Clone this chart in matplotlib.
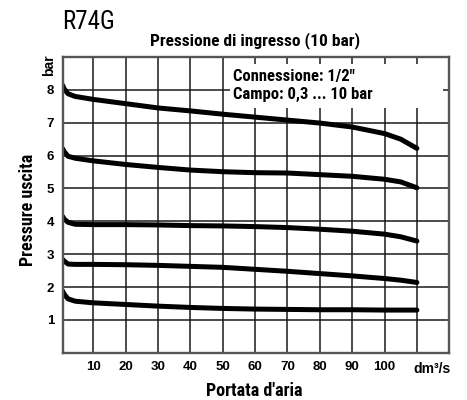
import matplotlib
matplotlib.use("Agg")
import matplotlib.pyplot as plt
from matplotlib.patches import Rectangle
from matplotlib import font_manager

# ---------------- data ----------------
flow = [0.5, 1, 2.2, 4.4, 10, 20, 30, 40, 50, 60, 70, 80, 90, 100, 105, 110]
p_out_8 = [8.14, 8.03, 7.88, 7.80, 7.71, 7.58, 7.45, 7.36, 7.26, 7.17, 7.08, 6.99, 6.87, 6.67, 6.50, 6.22]
p_out_6 = [6.21, 6.12, 5.98, 5.92, 5.84, 5.73, 5.64, 5.56, 5.51, 5.48, 5.47, 5.42, 5.37, 5.28, 5.20, 5.02]
p_out_4 = [4.15, 4.07, 3.97, 3.91, 3.90, 3.90, 3.89, 3.87, 3.86, 3.84, 3.81, 3.76, 3.70, 3.61, 3.53, 3.40]
p_out_3 = [2.84, 2.79, 2.70, 2.69, 2.69, 2.68, 2.66, 2.63, 2.60, 2.54, 2.48, 2.41, 2.34, 2.26, 2.21, 2.14]
p_out_2 = [1.88, 1.78, 1.64, 1.57, 1.52, 1.47, 1.42, 1.38, 1.35, 1.33, 1.32, 1.31, 1.31, 1.30, 1.30, 1.30]
series = [p_out_8, p_out_6, p_out_4, p_out_3, p_out_2]

x_ticks = [10, 20, 30, 40, 50, 60, 70, 80, 90, 100]
x_ticklabels = ["10", "20", "30", "40", "50", "60", "70", "80", "90", "100"]
y_ticks = [1, 2, 3, 4, 5, 6, 7, 8]
y_ticklabels = ["1", "2", "3", "4", "5", "6", "7", "8"]

title_top = "R74G"
title = "Pressione di ingresso (10 bar)"
info = "Connessione: 1/2\"\nCampo: 0,3 ... 10 bar"
xlabel = "Portata d'aria"
ylabel = "Pressure uscita"
x_unit = "dm\u00b3/s"
y_unit = "bar"

# ---------------- fonts ----------------
avail = {f.name for f in font_manager.fontManager.ttflist}
cond = [f for f in ["Roboto Condensed", "PT Sans Narrow", "Archivo Narrow"] if f in avail]
NARROW = cond + ["DejaVu Sans"]
ARIAL = ["Liberation Sans", "DejaVu Sans"]

# ---------------- figure ----------------
fig = plt.figure(figsize=(4.67, 4.0), dpi=100)
ax = fig.add_axes([0.134, 0.118, 0.828, 0.7395])
ax.set_xlim(0.5, 120)
ax.set_ylim(0, 9)

grid_c = "#1a1a1a"
for xv in range(10, 120, 10):
    ax.axvline(xv, color=grid_c, lw=1.1, zorder=1)
for yv in range(1, 9):
    ax.axhline(yv, color=grid_c, lw=1.1, zorder=1)

for s in series:
    ax.plot(flow, s, color="black", lw=3.6, solid_capstyle="round",
            solid_joinstyle="round", zorder=3)

# info box (white background)
ax.add_patch(Rectangle((0.433, 0.828), 0.551, 0.147, transform=ax.transAxes,
                       facecolor="white", edgecolor="none", zorder=2))
ax.text(0.440, 0.903, info, transform=ax.transAxes, ha="left", va="center",
        family=NARROW, fontweight="bold", fontsize=12, linespacing=1.25, zorder=4)

for sp in ax.spines.values():
    sp.set_color("#555555")
    sp.set_linewidth(1.7)
    sp.set_zorder(5)

ax.set_xticks(x_ticks)
ax.set_xticklabels(x_ticklabels, family=ARIAL, fontweight="bold", fontsize=9.5)
ax.set_yticks(y_ticks)
ax.set_yticklabels(y_ticklabels, family=ARIAL, fontweight="bold", fontsize=9.5)
ax.tick_params(length=0, pad=6)

ax.text(114.8, -0.5, x_unit, ha="center", va="center", family=ARIAL,
        fontweight="bold", fontsize=10)
ax.text(-0.035, 0.973, y_unit, transform=ax.transAxes, rotation=90,
        ha="center", va="center", family=ARIAL, fontweight="bold", fontsize=10)

fig.text(0.545, 0.022, xlabel, ha="center", va="center", family=NARROW,
         fontweight="bold", fontsize=13)
fig.text(0.060, 0.475, ylabel, ha="center", va="center", rotation=90,
         family=NARROW, fontweight="bold", fontsize=13)
fig.text(0.547, 0.899, title, ha="center", va="center", family=NARROW,
         fontweight="bold", fontsize=12.5)
fig.text(0.133, 0.944, title_top, ha="left", va="center", family=NARROW,
         fontsize=18)

fig.savefig("out.png", dpi=100, facecolor="white")
